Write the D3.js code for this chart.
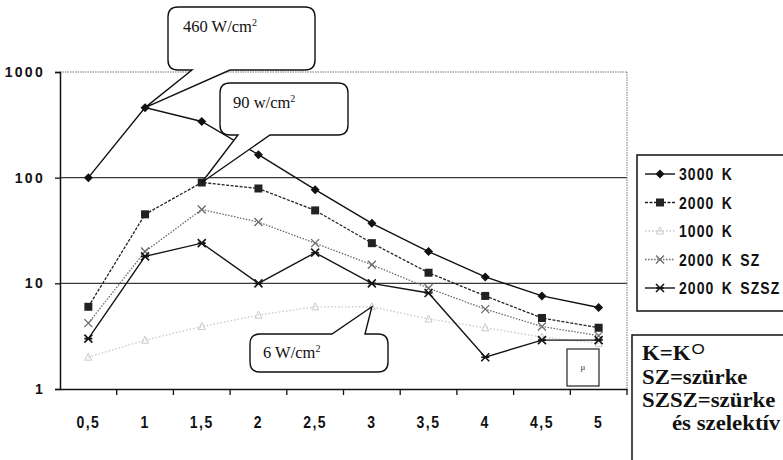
<!DOCTYPE html>
<html><head><meta charset="utf-8">
<script src="https://cdn.jsdelivr.net/npm/d3@7"></script>
<style>body{margin:0;background:#fff}svg{display:block}</style>
</head><body><svg id="c" width="783" height="460"></svg>
<script>
const categories = ["0,5","1","1,5","2","2,5","3","3,5","4","4,5","5"];
const s3000 = [100, 460, 340, 165, 77, 37, 20, 11.5, 7.6, 5.9];
const s2000 = [6, 45, 90, 79, 49, 24, 12.6, 7.6, 4.7, 3.8];
const s1000 = [2.0, 2.9, 3.9, 5.0, 6.0, 6.0, 4.6, 3.8, 3.1, 2.7];
const s2000SZ = [4.2, 20, 50, 38, 24, 15, 9, 5.7, 3.9, 3.2];
const s2000SZSZ = [3, 18, 24, 10, 19.5, 10, 8.1, 2, 2.9, 2.9];
const seriesNames = ["3000 K","2000 K","1000 K","2000 K SZ","2000 K SZSZ"];
const yTicks = [1, 10, 100, 1000];
const notes = ["K=K", "SZ=szürke", "SZSZ=szürke", "és szelektív"];

const SANS = "'Liberation Sans', Arial, sans-serif";
const SERIF = "'Liberation Serif', 'Times New Roman', serif";
const svg = d3.select("#c");
const L = 60, R = 627, T = 72, B = 389;
const x = d3.scaleBand().domain(categories).range([L, R]);
const y = d3.scaleLog().domain([1, 1000]).range([B, T]);
const cx = c => x(c) + x.bandwidth() / 2;

// gridlines
svg.append("g").selectAll("line").data([10, 100]).join("line")
  .attr("x1", L).attr("x2", R).attr("y1", d => y(d)).attr("y2", d => y(d))
  .attr("stroke", "#3a3a3a").attr("stroke-width", 1.4);
svg.append("line").attr("x1", L).attr("x2", R).attr("y1", y(1000)).attr("y2", y(1000))
  .attr("stroke", "#777").attr("stroke-width", 1).attr("stroke-dasharray", "1.5,1");
svg.append("line").attr("x1", R).attr("x2", R).attr("y1", y(1000)).attr("y2", B)
  .attr("stroke", "#777").attr("stroke-width", 1).attr("stroke-dasharray", "1.5,1");

// axes
const yAxis = d3.axisLeft(y).tickValues(yTicks).tickFormat(d3.format("d")).tickSize(5).tickPadding(10);
const gy = svg.append("g").attr("transform", `translate(${L},0)`).call(yAxis);
gy.select(".domain").attr("stroke", "#111").attr("stroke-width", 1.5);
gy.selectAll(".tick line").attr("stroke", "#111").attr("stroke-width", 1.3);
gy.selectAll(".tick text").attr("font-family", SANS)
  .attr("font-weight", "bold").attr("font-size", 14).attr("letter-spacing", 2.3).attr("fill", "#111");

const gx = svg.append("g").attr("transform", `translate(0,${B})`)
  .call(d3.axisBottom(x).tickSize(0).tickPadding(0));
gx.select(".domain").attr("stroke", "#111").attr("stroke-width", 1.5);
gx.selectAll(".tick text").attr("y", 0).attr("dy", 0)
  .attr("transform", "translate(0,39) scale(1,1.2)")
  .attr("font-family", SANS)
  .attr("font-weight", "bold").attr("font-size", 14).attr("letter-spacing", 1.5).attr("fill", "#111");
// boundary ticks
gx.append("g").selectAll("line").data(categories.slice(1).concat(["end"])).join("line")
  .attr("x1", d => d === "end" ? R : x(d)).attr("x2", d => d === "end" ? R : x(d))
  .attr("y1", 0).attr("y2", 6).attr("stroke", "#111").attr("stroke-width", 1.3);

// markers
function marker(g, type, color) {
  if (type === "diamond") g.append("path").attr("d", "M0,-4.5L4.5,0L0,4.5L-4.5,0Z").attr("fill", color);
  else if (type === "square") g.append("rect").attr("x", -4).attr("y", -4).attr("width", 8).attr("height", 8).attr("fill", color);
  else if (type === "tri") g.append("path").attr("d", "M0,-4L3.5,3L-3.5,3Z").attr("fill", "none").attr("stroke", color).attr("stroke-width", 1);
  else if (type === "x") g.append("path").attr("d", "M-4,-4L4,4M-4,4L4,-4").attr("stroke", color).attr("stroke-width", 1.3);
  else if (type === "star") g.append("path").attr("d", "M-4,-4L4,4M-4,4L4,-4M-4,0L4,0").attr("stroke", color).attr("stroke-width", 1.6);
}

const series = [
  {name: seriesNames[0], vals: s3000, color: "#111", dash: null, w: 1.4, m: "diamond"},
  {name: seriesNames[1], vals: s2000, color: "#222", dash: "3,1.5", w: 1.3, m: "square"},
  {name: seriesNames[2], vals: s1000, color: "#c8c8c8", dash: "1.5,2", w: 1.3, m: "tri"},
  {name: seriesNames[3], vals: s2000SZ, color: "#6a6a6a", dash: "1.5,1.5", w: 1.3, m: "x"},
  {name: seriesNames[4], vals: s2000SZSZ, color: "#151515", dash: null, w: 1.4, m: "star"}
];

const line = d3.line().x(d => cx(d.c)).y(d => y(d.v));
[2, 3, 1, 4, 0].forEach(i => {
  const s = series[i];
  const pts = categories.map((c, j) => ({c, v: s.vals[j]}));
  svg.append("path").datum(pts).attr("d", line).attr("fill", "none")
    .attr("stroke", s.color).attr("stroke-width", s.w).attr("stroke-dasharray", s.dash);
  pts.forEach(p => marker(svg.append("g").attr("transform", `translate(${cx(p.c)},${y(p.v)})`), s.m, s.color));
});

// callouts
function callout(bx, by, bw, bh, side, p1, p2, tip, label, tx, ty) {
  const r = 10;
  let d;
  if (side === "bottom") {
    d = `M${bx + r},${by}H${bx + bw - r}Q${bx + bw},${by} ${bx + bw},${by + r}V${by + bh - r}Q${bx + bw},${by + bh} ${bx + bw - r},${by + bh}` +
        `H${p2}L${tip[0]},${tip[1]}L${p1},${by + bh}H${bx + r}Q${bx},${by + bh} ${bx},${by + bh - r}V${by + r}Q${bx},${by} ${bx + r},${by}Z`;
  } else {
    d = `M${bx + r},${by}H${p1}L${tip[0]},${tip[1]}L${p2},${by}H${bx + bw - r}Q${bx + bw},${by} ${bx + bw},${by + r}V${by + bh - r}Q${bx + bw},${by + bh} ${bx + bw - r},${by + bh}` +
        `H${bx + r}Q${bx},${by + bh} ${bx},${by + bh - r}V${by + r}Q${bx},${by} ${bx + r},${by}Z`;
  }
  svg.append("path").attr("d", d).attr("fill", "#fff").attr("stroke", "#111").attr("stroke-width", 1.4);
  const t = svg.append("text").attr("x", tx).attr("y", ty).attr("font-family", SERIF)
    .attr("font-size", 16.5).attr("fill", "#111").text(label);
  t.append("tspan").attr("font-size", 10).attr("dy", -6).text("2");
}
callout(168, 7, 147, 63, "bottom", 192, 230, [cx("1"), y(460)], "460 W/cm", 183, 32);
callout(220, 83, 128, 52, "bottom", 238, 270, [cx("1,5"), y(90)], "90 w/cm", 233, 108);
callout(250, 334, 138, 38, "top", 332, 365, [cx("3"), y(6)], "6 W/cm", 263, 358);

// mu box
svg.append("rect").attr("x", 567).attr("y", 349).attr("width", 32).attr("height", 37)
  .attr("fill", "#fff").attr("stroke", "#222").attr("stroke-width", 1.2);
svg.append("text").attr("x", 583).attr("y", 370).attr("text-anchor", "middle")
  .attr("font-family", SERIF).attr("font-size", 9).attr("fill", "#333").text("μ");

// legend
svg.append("rect").attr("x", 637).attr("y", 155).attr("width", 160).attr("height", 156)
  .attr("fill", "#fff").attr("stroke", "#111").attr("stroke-width", 1.5);
const lg = svg.append("g").selectAll("g").data(series).join("g")
  .attr("transform", (d, i) => `translate(0,${174 + i * 28.5})`);
lg.append("line").attr("x1", 645).attr("x2", 675).attr("stroke", d => d.color)
  .attr("stroke-width", d => d.w).attr("stroke-dasharray", d => d.dash);
lg.each(function(d) { marker(d3.select(this).append("g").attr("transform", "translate(660,0)"), d.m, d.color); });
lg.append("text").attr("transform", "translate(679,6) scale(1,1.2)").attr("font-family", SANS)
  .attr("font-weight", "bold").attr("font-size", 14).attr("letter-spacing", 1.05)
  .attr("word-spacing", 2.5).attr("fill", "#111")
  .text(d => d.name);

// notes box
svg.append("rect").attr("x", 632).attr("y", 335).attr("width", 160).attr("height", 140)
  .attr("fill", "#fff").attr("stroke", "#111").attr("stroke-width", 1.5);
const nt = svg.append("g").attr("font-family", SERIF)
  .attr("font-weight", "bold").attr("font-size", 20).attr("fill", "#111");
const ny = [360, 384, 407, 430];
const nx = [642, 642, 642, 672];
notes.forEach((s, i) => {
  const t = nt.append("text").attr("transform", `translate(${nx[i]},${ny[i]}) scale(1.14,1)`).text(s);
  if (i === 0) t.append("tspan").attr("font-family", SANS).attr("font-weight", "normal")
    .attr("font-size", 15).attr("dx", 1).attr("dy", -6).text("O");
});
</script></body></html>
